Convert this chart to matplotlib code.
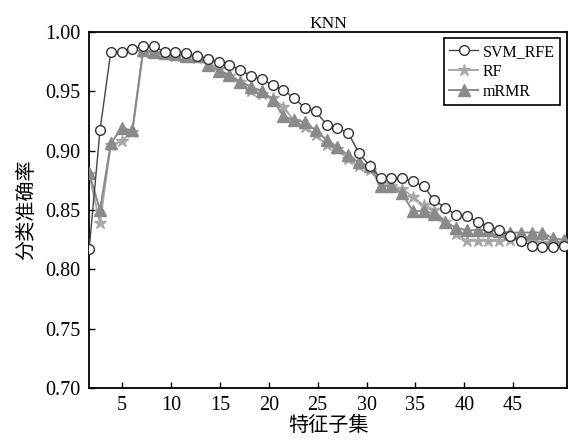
import numpy as np
import matplotlib
matplotlib.use("Agg")
import matplotlib.pyplot as plt

# feature subsets (positions on the drawn axis) and accuracies
n_subsets = 45
subset_pos = np.linspace(1.62, 50.2, n_subsets)

svm_rfe = [0.817, 0.917, 0.983, 0.983, 0.986, 0.988, 0.988, 0.983, 0.983, 0.982,
           0.980, 0.977, 0.975, 0.972, 0.968, 0.963, 0.960, 0.955, 0.951, 0.944,
           0.936, 0.933, 0.922, 0.919, 0.915, 0.898, 0.887, 0.877, 0.877, 0.877,
           0.874, 0.870, 0.858, 0.852, 0.846, 0.845, 0.840, 0.836, 0.833, 0.828,
           0.824, 0.820, 0.819, 0.819, 0.820]
rf = [0.880, 0.839, 0.905, 0.908, 0.916, 0.983, 0.982, 0.981, 0.980, 0.979,
      0.978, 0.974, 0.969, 0.963, 0.958, 0.950, 0.948, 0.944, 0.937, 0.925,
      0.920, 0.913, 0.905, 0.901, 0.893, 0.887, 0.884, 0.876, 0.870, 0.868,
      0.861, 0.854, 0.850, 0.840, 0.830, 0.824, 0.824, 0.824, 0.824, 0.825,
      0.825, 0.823, 0.822, 0.822, 0.822]
mrmr = [0.881, 0.850, 0.906, 0.919, 0.917, 0.985, 0.983, 0.982, 0.981, 0.980,
        0.980, 0.972, 0.967, 0.964, 0.958, 0.954, 0.950, 0.943, 0.929, 0.926,
        0.924, 0.917, 0.909, 0.903, 0.896, 0.890, 0.887, 0.870, 0.870, 0.864,
        0.849, 0.849, 0.847, 0.840, 0.835, 0.833, 0.833, 0.833, 0.832, 0.831,
        0.831, 0.831, 0.831, 0.826, 0.825]

xticks = [5, 10, 15, 20, 25, 30, 35, 40, 45]
yticks = [0.70, 0.75, 0.80, 0.85, 0.90, 0.95, 1.00]

serif = ['Liberation Serif', 'DejaVu Serif']
cjk = ['Noto Sans CJK SC', 'DejaVu Sans']

fig = plt.figure(figsize=(5.68, 4.43), dpi=100)
ax = fig.add_axes([0.157, 0.124, 0.841, 0.804])

ax.plot(subset_pos, rf, '-*', color='#a8a8a8', lw=1.4, ms=9,
        mec='#a8a8a8', mfc='#a8a8a8', label='RF', zorder=2)
ax.plot(subset_pos, mrmr, '-^', color='#8a8a8a', lw=1.4, ms=9,
        mec='#8a8a8a', mfc='#8a8a8a', label='mRMR', zorder=3)
ax.plot(subset_pos, svm_rfe, '-o', color='#444444', lw=1.0, ms=7,
        mec='#333333', mfc='white', mew=1.0, label='SVM_RFE', zorder=4)

ax.set_xlim(1.62, 50.5)
ax.set_ylim(0.70, 1.00)
ax.set_xticks(xticks)
ax.set_yticks(yticks)
ax.set_yticklabels([f"{v:.2f}" for v in yticks])
ax.tick_params(direction='in', length=4, width=1, top=False, right=False,
               labelsize=14.5, pad=6)
for lab in ax.get_xticklabels() + ax.get_yticklabels():
    lab.set_family(serif)
for sp in ax.spines.values():
    sp.set_linewidth(1.3)

ax.set_title('KNN', family=serif, fontsize=12.5, pad=3)
ax.set_xlabel('特征子集', family=cjk, fontsize=14.5, labelpad=0)
ax.set_ylabel('分类准确率', family=cjk, fontsize=14.5, labelpad=6)

handles, labels = ax.get_legend_handles_labels()
order = [2, 0, 1]
leg = ax.legend([handles[i] for i in order], [labels[i] for i in order],
                loc='upper right', prop={'family': serif, 'size': 11.5},
                handlelength=1.8, handletextpad=0.3, borderpad=0.35,
                labelspacing=0.25, fancybox=False, framealpha=1,
                edgecolor='black', borderaxespad=0.4)
leg.get_frame().set_linewidth(1.2)

fig.savefig('out.png', dpi=100)
